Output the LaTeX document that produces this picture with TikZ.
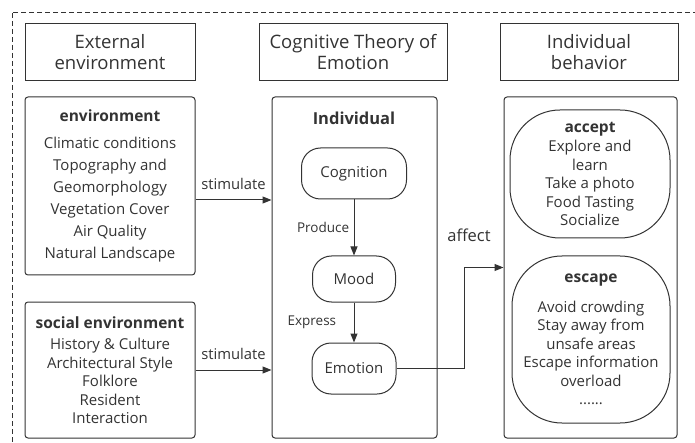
\documentclass[tikz,border=0pt]{standalone}
\usepackage{fontspec}
\setmainfont{Open Sans}
\usetikzlibrary{arrows.meta}

\definecolor{inkgray}{HTML}{333333}
\tikzset{
  headbox/.style={draw=inkgray, line width=1pt, minimum height=57pt, align=center,
    text=inkgray, inner sep=0pt, font=\fontsize{18.5}{21}\selectfont},
  groupbox/.style={draw=inkgray, line width=1pt, rounded corners=3pt, align=center,
    text=inkgray, inner sep=0pt},
  stagebox/.style={draw=inkgray, line width=1pt, rounded corners=19pt, align=center,
    text=inkgray, font=\fontsize{15}{17}\selectfont},
  choicebox/.style={draw=inkgray, line width=1pt, rounded corners=50pt, align=center,
    text=inkgray, inner sep=0pt, font=\fontsize{15}{18.5}\selectfont},
  flow/.style={-{Triangle[length=9pt,width=7pt]}, line width=1pt, draw=inkgray},
  tag/.style={text=inkgray, font=\fontsize{14.8}{17}\selectfont},
  smalltag/.style={text=inkgray, font=\fontsize{13.5}{16}\selectfont}
}

\begin{document}
\begin{tikzpicture}[x=1pt,y=-1pt]
  \useasboundingbox (0,0) rectangle (695,443);
  \draw[inkgray, line width=1pt, dash pattern=on 5pt off 3pt] (12,13) rectangle (702,450);

  % column headers
  \node[headbox, minimum width=170pt] (hext) at (110,52.5) {External\\environment};
  \node[headbox, minimum width=188pt] (hcog) at (353,52.5) {Cognitive Theory of\\Emotion};
  \node[headbox, minimum width=178pt] (hbeh) at (589,52.5) {Individual\\behavior};

  % left column
  \node[groupbox, minimum width=170pt, minimum height=178pt, font=\fontsize{15}{22}\selectfont]
    (env) at (110,186)
    {{\fontsize{15.5}{22}\selectfont\bfseries environment}\\[5pt]
     Climatic conditions\\Topography and\\Geomorphology\\Vegetation Cover\\Air Quality\\Natural Landscape};
  \node[groupbox, minimum width=170pt, minimum height=136pt, font=\fontsize{15}{18.5}\selectfont]
    (social) at (110,370)
    {{\fontsize{15.5}{18.5}\selectfont\bfseries social environment}\\[3pt]
     History \& Culture\\Architectural Style\\Folklore\\Resident\\Interaction};

  % middle column
  \node[groupbox, minimum width=165pt, minimum height=341pt] (indiv) at (354.5,267.5) {};
  \node[text=inkgray, font=\fontsize{16.5}{19}\selectfont\bfseries] (ititle) at (354,118) {Individual};
  \node[stagebox, minimum width=105pt, minimum height=51pt] (cog) at (354,173.5) {Cognition};
  \node[stagebox, minimum width=83pt, minimum height=46pt] (mood) at (354,279) {Mood};
  \node[stagebox, minimum width=84pt, minimum height=51pt] (emo) at (354,368.5) {Emotion};

  % right column
  \node[groupbox, minimum width=173pt, minimum height=341pt] (behav) at (590.5,267.5) {};
  \node[choicebox, minimum width=160pt, minimum height=128pt] (accept) at (590,174)
    {{\fontsize{15.5}{18.5}\selectfont\bfseries accept}\\[1pt]
     Explore and\\learn\\Take a photo\\Food Tasting\\Socialize};
  \node[choicebox, minimum width=158pt, minimum height=167pt] (escape) at (591,339.5)
    {{\fontsize{15.5}{18.5}\selectfont\bfseries escape}\\[11pt]
     Avoid crowding\\Stay away from\\unsafe areas\\Escape information\\overload\\......};

  % connectors
  \draw[flow] ([yshift=-14pt]env.east) -- node[tag, midway, above=7pt] (stim1) {stimulate}
    ([yshift=-14pt]env.east -| indiv.west);
  \draw[flow] (social.east) -- node[tag, midway, above=7pt] (stim2) {stimulate}
    (social.east -| indiv.west);
  \draw[flow] (cog) -- node[smalltag, midway, left=1pt] (prod) {Produce} (mood);
  \draw[flow] (mood) -- node[smalltag, midway, left=14pt] (expr) {Express} (emo);
  \coordinate (turn) at (464,0);
  \draw[flow] (emo.east) -| (turn |- behav.west) -- (behav.west);
  \node[text=inkgray, font=\fontsize{16.5}{19}\selectfont] (aff) at (469,235) {affect};
\end{tikzpicture}
\end{document}
